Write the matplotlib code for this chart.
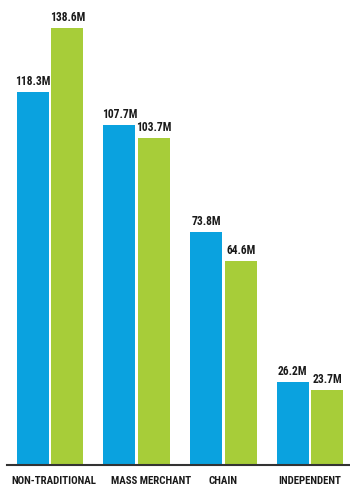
import numpy as np
import matplotlib
matplotlib.use("Agg")
from matplotlib import pyplot as plt
from matplotlib import transforms

plt.rcParams['font.family'] = ['Liberation Sans Narrow', 'Roboto Condensed', 'DejaVu Sans']

channels = ["NON-TRADITIONAL", "MASS MERCHANT", "CHAIN", "INDEPENDENT"]
blue_vals = [118.3, 107.7, 73.8, 26.2]
green_vals = [138.6, 103.7, 64.6, 23.7]

BLUE = "#0AA2DF"
GREEN = "#A7CD39"

fig = plt.figure(figsize=(3.5, 4.87), dpi=100)
ax = fig.add_axes([7 / 350, 22 / 487, 343 / 350, 465 / 487])

x = np.arange(len(channels))
width = 0.37
off = 0.2

b1 = ax.bar(x - off, blue_vals, width, color=BLUE)
b2 = ax.bar(x + off, green_vals, width, color=GREEN)

for bars, vals in ((b1, blue_vals), (b2, green_vals)):
    for rect, v in zip(bars, vals):
        ax.text(rect.get_x() + rect.get_width() / 2, v + 1.3, f"{v}M",
                ha="center", va="bottom", fontsize=8.3, fontweight="bold",
                color="#1a1a1a")

# category names sit just above the bottom edge of the figure,
# nudged sideways so the long ones don't run into each other
trans = transforms.blended_transform_factory(ax.transData, fig.transFigure)
label_shift = [0.04, 0.16, 0.0, 0.0]
for xi, name, dx in zip(x, channels, label_shift):
    ax.text(xi + dx, 3 / 487, name, ha="center", va="baseline", fontsize=7.8,
            fontweight="bold", color="#1a1a1a", transform=trans)

ax.set_xlim(-0.496, 3.46)
ax.set_ylim(0, 147.5)
ax.axhline(0, color="#333333", lw=1.5, clip_on=False)
for s in ax.spines.values():
    s.set_visible(False)
ax.set_xticks([])
ax.set_yticks([])

fig.savefig("out.png", dpi=100)
